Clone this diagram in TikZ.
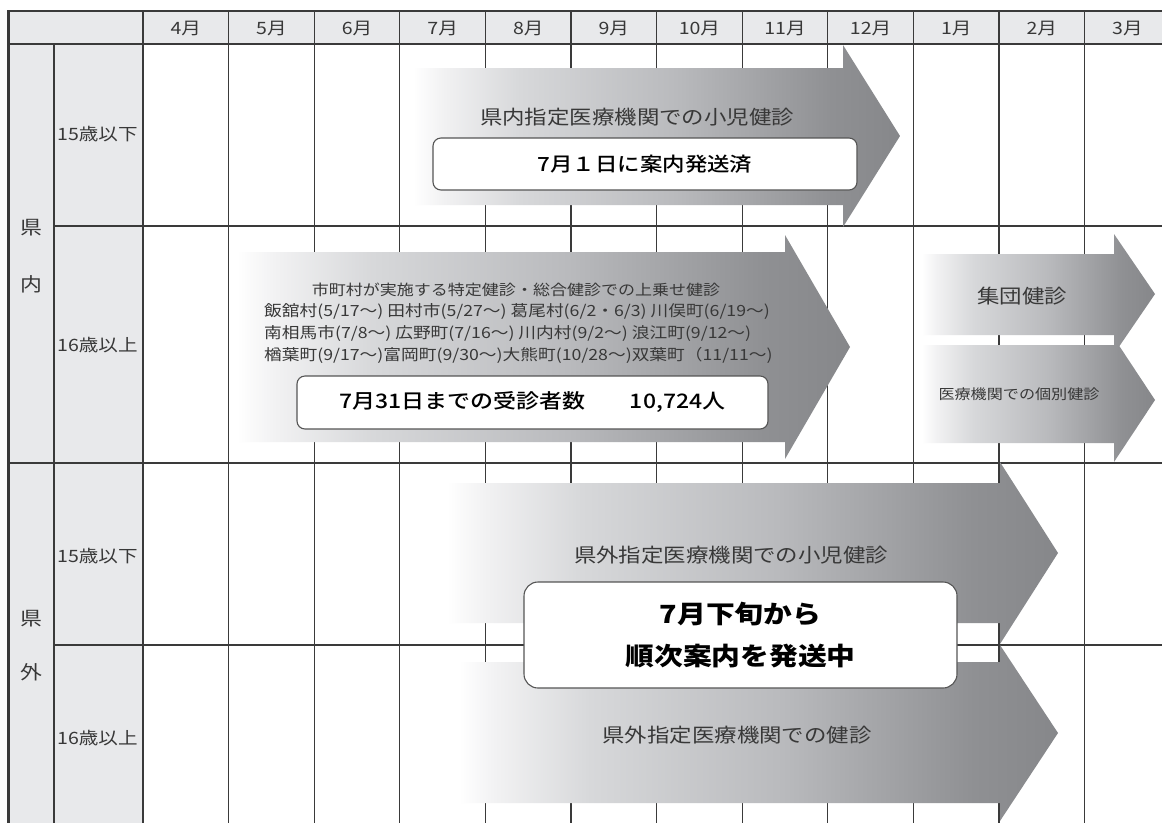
\documentclass[tikz,border=0pt]{standalone}
\usepackage{fontspec}
\setmainfont{Noto Sans CJK JP}[FakeStretch=1.15]
\newfontfamily\medfont{Noto Sans CJK JP Medium}[FakeStretch=1.15]
\newcommand\setfs[2]{\fontsize{#1}{#2}\selectfont}
\definecolor{hdr}{HTML}{E8E9EB}
\definecolor{gridc}{HTML}{3A3A3A}
\definecolor{txt}{HTML}{383838}
\definecolor{boxc}{HTML}{555555}
\definecolor{shA}{HTML}{F2F2F3}
\definecolor{shB}{HTML}{D7D8DA}
\definecolor{shC}{HTML}{B9BABD}
\definecolor{shD}{HTML}{8F9093}
\definecolor{shE}{HTML}{86878A}
\pgfdeclarehorizontalshading{arrowshade}{100bp}{color(0bp)=(white); color(25bp)=(white); color(28bp)=(shA); color(36bp)=(shB); color(52bp)=(shC); color(68bp)=(shD); color(75bp)=(shE); color(100bp)=(shE)}
\tikzset{
  gl/.style={draw=gridc, line width=1.1pt},
  lbl/.style={text=txt, inner sep=0pt},
  wbox/.style={draw=boxc, line width=1.1pt, fill=white, rounded corners=8pt, inner sep=0pt, text=black},
  arr/.style={shading=arrowshade},
}
\begin{document}
\begin{tikzpicture}[x=1pt,y=-1pt]
\useasboundingbox (0,0) rectangle (1162,823);
\fill[white] (0,0) rectangle (1162,823);
% header and label fills
\fill[hdr] (8,11) rectangle (1162,44);
\fill[hdr] (8,44) rectangle (143,823);
% grid
\foreach \i in {0,...,11} \draw[gl] ({143+85.6*\i},11) -- ({143+85.6*\i},823);
\draw[gl] (54,44) -- (54,823);
\draw[gl] (8,44) -- (1162,44);
\draw[gl] (54,226) -- (1162,226);
\draw[gl] (8,463) -- (1162,463);
\draw[gl] (54,645) -- (1162,645);
\draw[draw=gridc, line width=2.6pt] (7,11) -- (1162,11);
\draw[draw=gridc, line width=3pt] (8.5,10) -- (8.5,823);
% month labels
\foreach \m [count=\j from 0] in {4,5,6,7,8,9,10,11,12,1,2,3}
  \node[lbl, font=\setfs{17}{17}] (mon\j) at ({185.8+85.6*\j},28) {\m 月};
% row labels
\node[lbl, font=\setfs{19}{19}] (kn1) at (31,228) {県};
\node[lbl, font=\setfs{19}{19}] (kn2) at (31,284) {内};
\node[lbl, font=\setfs{19}{19}] (kg1) at (31,619) {県};
\node[lbl, font=\setfs{19}{19}] (kg2) at (31,672) {外};
\node[lbl, font=\setfs{17}{17}, anchor=west] (r1) at (57,134) {15歳以下};
\node[lbl, font=\setfs{17}{17}, anchor=west] (r2) at (57,345) {16歳以上};
\node[lbl, font=\setfs{17}{17}, anchor=west] (r3) at (57,556) {15歳以下};
\node[lbl, font=\setfs{17}{17}, anchor=west] (r4) at (57,738) {16歳以上};
% arrows
\shade[arr] (413,68) -- (843,68) -- (843,45) -- (900,136) -- (843,227) -- (843,205) -- (413,205) -- cycle;
\shade[arr] (237,252) -- (785,252) -- (785,235) -- (850,347) -- (785,459) -- (785,442) -- (237,442) -- cycle;
\shade[arr] (922,254) -- (1114,254) -- (1114,234) -- (1155,294) -- (1114,354) -- (1114,335) -- (922,335) -- cycle;
\shade[arr] (922,345) -- (1114,345) -- (1114,338) -- (1155,400) -- (1114,462) -- (1114,443) -- (922,443) -- cycle;
\shade[arr] (447,483) -- (1000,483) -- (1000,462) -- (1058,553) -- (1000,644) -- (1000,623) -- (447,623) -- cycle;
\shade[arr] (459,662) -- (1000,662) -- (1000,645) -- (1058,733) -- (1000,821) -- (1000,803) -- (459,803) -- cycle;
% arrow texts
\node[lbl, font=\setfs{19.5}{19.5}] (t1) at (637,117) {県内指定医療機関での小児健診};
\node[lbl, font=\setfs{14.8}{14.8}] (t2a) at (516,290) {市町村が実施する特定健診・総合健診での上乗せ健診};
\node[lbl, font=\setfs{15.4}{15.4}, anchor=west] (t2b) at (264,311) {飯舘村(5/17～) 田村市(5/27～) 葛尾村(6/2・6/3) 川俣町(6/19～)};
\node[lbl, font=\setfs{15.4}{15.4}, anchor=west] (t2c) at (264,333) {南相馬市(7/8～) 広野町(7/16～) 川内村(9/2～) 浪江町(9/12～)};
\node[lbl, font=\setfs{15.4}{15.4}, anchor=west] (t2d) at (264,355) {楢葉町(9/17～)富岡町(9/30～)大熊町(10/28～)双葉町（11/11～)};
\node[lbl, font=\setfs{19.5}{19.5}] (t3) at (1022,296) {集団健診};
\node[lbl, font=\setfs{14}{14}] (t4) at (1019,394) {医療機関での個別健診};
\node[lbl, font=\setfs{19.5}{19.5}] (t5) at (731,555) {県外指定医療機関での小児健診};
\node[lbl, font=\setfs{19.5}{19.5}] (t6) at (737,735) {県外指定医療機関での健診};
% white boxes
\node[wbox, minimum width=424, minimum height=52, font=\setfs{19.5}{19.5}\medfont] (b1) at (645,164) {7月１日に案内発送済};
\node[wbox, minimum width=471, minimum height=53, font=\setfs{20}{20}\medfont] (b2) at (532.5,402.5) {7月31日までの受診者数\hspace{2.2em}10,724人};
\node[wbox, rounded corners=14pt, minimum width=433, minimum height=106, align=center, font=\setfs{25}{42}\bfseries] (b5) at (740.5,635) {7月下旬から\\順次案内を発送中};
\end{tikzpicture}
\end{document}
